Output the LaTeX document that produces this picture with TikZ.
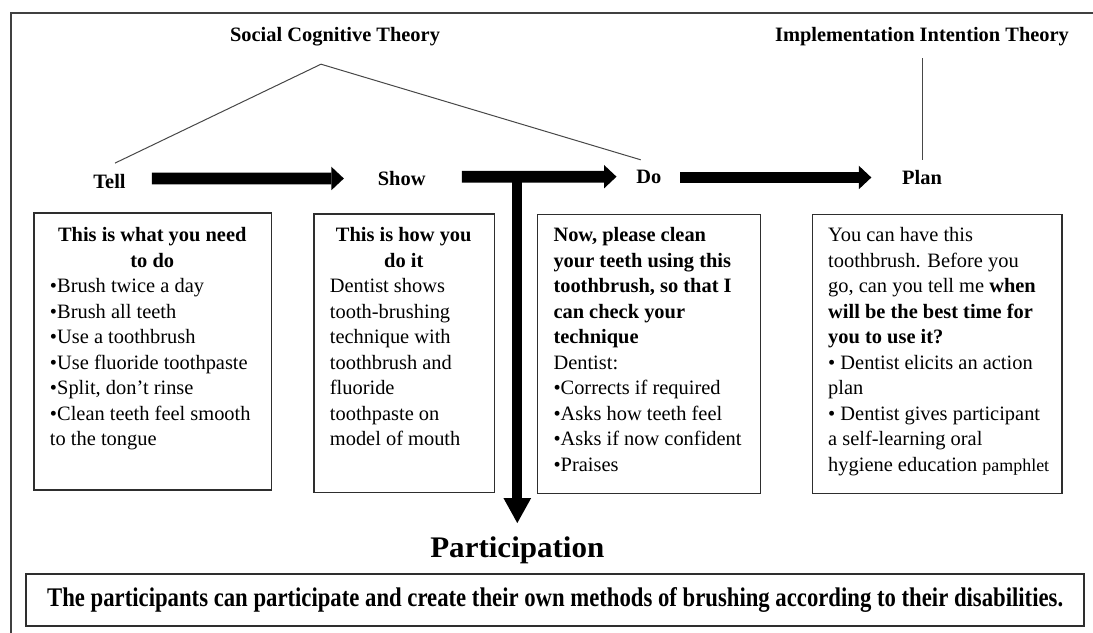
\documentclass[tikz,border=0pt]{standalone}
\usepackage{fontspec}
\setmainfont{Liberation Serif}
\usepackage{graphicx}
\usetikzlibrary{arrows.meta}

\tikzset{
  frameline/.style={draw=black!75, line width=1.2bp},
  theoryline/.style={draw=black!72, line width=1bp},
  infobox/.style={draw=black!82, line width=1.4bp, rectangle, inner sep=0pt, anchor=north west},
  boxtext/.style={inner sep=0pt, anchor=base west, font=\fontsize{20.5}{25.6}\selectfont},
  steplabel/.style={inner sep=0pt, anchor=base, text height=14bp, text depth=4.5bp,
    font=\fontsize{20.5}{24}\selectfont\bfseries},
  flowarrow/.style={draw=black, line width=11.7bp,
    -{Triangle[length=12.5bp, width=23.5bp, line width=0pt]}},
  downarrow/.style={draw=black, line width=10bp,
    -{Triangle[length=25bp, width=27.7bp, line width=0pt]}},
}

\begin{document}
\begin{tikzpicture}[x=1bp, y=-1bp]
\useasboundingbox (0,0) rectangle (1093,633);

% outer frame
\draw[frameline] (11,633) -- (11,13) -- (1093,13);

% theories
\node[steplabel] (sct) at (335,41.7) {Social Cognitive Theory};
\node[steplabel] (iit) at (922,41.7) {Implementation Intention Theory};

% steps
\node[steplabel] (tell) at (109.5,189) {Tell};
\node[steplabel] (show) at (401.7,186) {Show};
\node[steplabel] (do)   at (648.8,183.5) {Do};
\node[steplabel] (plan) at (922,184.3) {Plan};

% theory links
\coordinate (apex) at ([shift={(-14bp,-17.8bp)}]sct.south);
\draw[theoryline] (apex) -- ([shift={(5.5bp,11.7bp)}]tell.north);
\draw[theoryline] (apex) -- ([shift={(-8.1bp,9.5bp)}]do.north);
\draw[theoryline] ([yshift=-11.8bp]iit.south) -- ([yshift=10.3bp]plan.north);

% flow arrows
\draw[flowarrow, shorten <=26.1bp, shorten >=33.8bp]
  ([yshift=5.75bp]tell.east) -- ([yshift=2.75bp]show.west);
\draw[flowarrow, shorten <=36.1bp, shorten >=19.6bp]
  ([yshift=4.55bp]show.east) -- ([yshift=2.05bp]do.west);
\draw[flowarrow, shorten <=18.7bp, shorten >=30.6bp]
  ([yshift=1.25bp]do.east) -- ([yshift=2.05bp]plan.west);

% boxes
\node[infobox, minimum width=237.5bp, minimum height=277bp] (tellbox) at (33.3,212.3) {};
\node[infobox, minimum width=180.7bp, minimum height=278.4bp] (showbox) at (313.2,213.3) {};
\node[infobox, minimum width=223.3bp, minimum height=279bp] (dobox) at (536.5,214) {};
\node[infobox, minimum width=249.5bp, minimum height=279bp] (planbox) at (811.9,214) {};

\node[boxtext] (telltext) at (49.8,241.7) {\parbox[t]{204.5bp}{%
  {\centering\bfseries This is what you need\\ to do\par}%
  \raggedright
  •Brush twice a day\\
  •Brush all teeth\\
  •Use a toothbrush\\
  •Use fluoride toothpaste\\
  •Split, don’t rinse\\
  •Clean teeth feel smooth\\
  to the tongue}};

\node[boxtext] (showtext) at (329.7,241.7) {\parbox[t]{147.7bp}{%
  {\centering\bfseries This is how you\\ do it\par}%
  \raggedright
  Dentist shows\\
  tooth-brushing\\
  technique with\\
  toothbrush and\\
  fluoride\\
  toothpaste on\\
  model of mouth}};

\node[boxtext] (dotext) at (553.3,241.7) {\parbox[t]{200bp}{\raggedright
  \textbf{Now, please clean}\\
  \textbf{your teeth using this}\\
  \textbf{toothbrush, so that I}\\
  \textbf{can check your}\\
  \textbf{technique}\\
  Dentist:\\
  •Corrects if required\\
  •Asks how teeth feel\\
  •Asks if now confident\\
  •Praises}};

\node[boxtext] (plantext) at (828,241.7) {\parbox[t]{240bp}{\raggedright
  You can have this\\
  toothbrush. Before you\\
  go, can you tell me \textbf{when}\\
  \textbf{will be the best time for}\\
  \textbf{you to use it?}\\
  • Dentist elicits an action\\
  plan\\
  • Dentist gives participant\\
  a self-learning oral\\
  hygiene education {\fontsize{18}{25.6}\selectfont pamphlet}}};

% participation
\node[inner sep=0pt, anchor=base, font=\fontsize{30}{30}\selectfont\bfseries]
  (part) at (517.3,557.5) {\resizebox{174bp}{\height}{Participation}};
\coordinate (junction) at (517.3,182.5);
\draw[downarrow, shorten >=13.5bp] (junction) -- (junction |- part.north);

\node[draw=black!82, line width=2bp, rectangle, inner sep=0pt,
  minimum width=1057.5bp, minimum height=52bp,
  font=\fontsize{27}{27}\selectfont\bfseries] (banner) at (555.2,600)
  {\resizebox{1016bp}{\height}{The participants can participate and create their own methods of brushing according to their disabilities.}};

\end{tikzpicture}
\end{document}
